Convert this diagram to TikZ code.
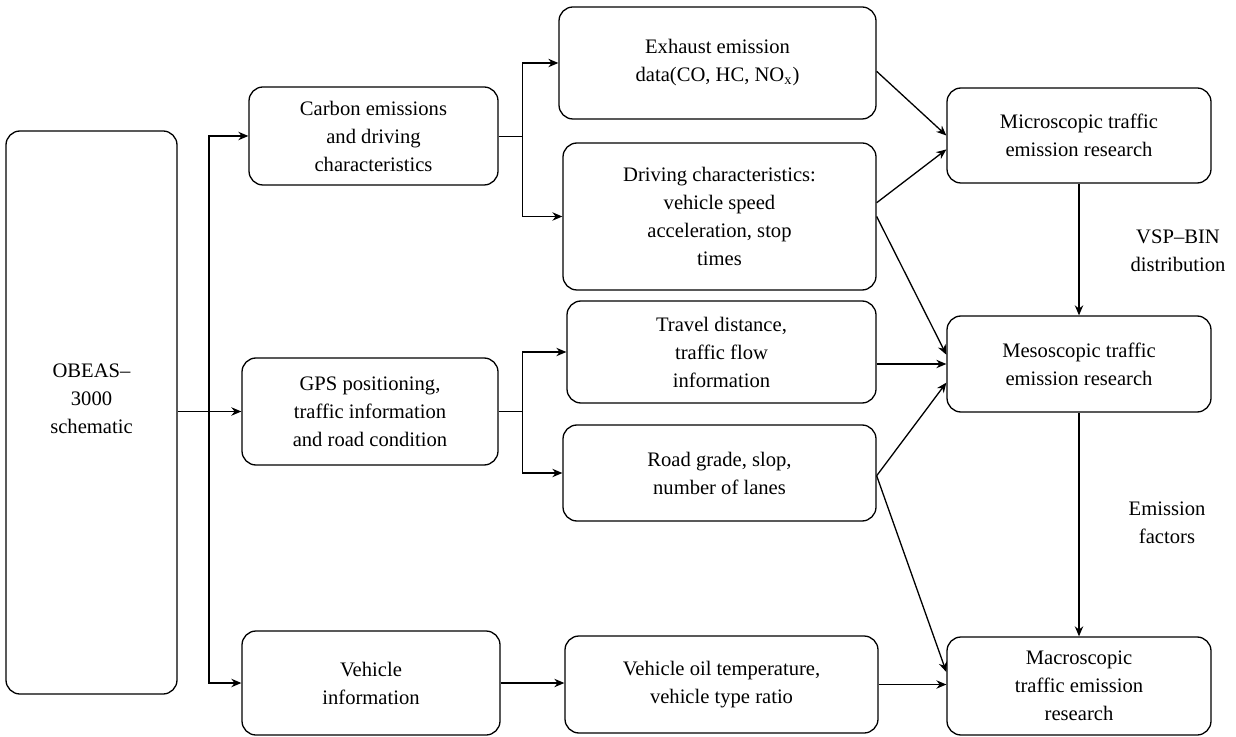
\documentclass[tikz,border=0pt]{standalone}
\usepackage{fontspec}
\setmainfont{Liberation Serif}
\usetikzlibrary{arrows.meta}
\tikzset{
  box/.style={draw, rounded corners=7pt, line width=0.65pt, align=center, inner sep=0pt},
  link/.style={line width=0.65pt, -{Stealth[length=5pt,width=4.2pt]}},
  note/.style={align=center, inner sep=0pt},
}
\begin{document}
\begin{tikzpicture}[x=0.5pt, y=-0.5pt, font=\fontsize{10.3}{14}\selectfont]
  \useasboundingbox (0,0) rectangle (1236,737);
  % 左侧设备
  \node[box, minimum width=85.5pt, minimum height=281.5pt] (obeas) at (91.5,412.5) {OBEAS–\\3000\\schematic\\[0pt]};
  % 第二列：采集的数据类别
  \node[box, minimum width=124.5pt, minimum height=49pt] (carbon) at (373.5,136) {Carbon emissions\\and driving\\characteristics};
  \node[box, minimum width=128pt, minimum height=53.5pt] (gps) at (370,411.5) {GPS positioning,\\traffic information\\and road condition};
  \node[box, minimum width=129pt, minimum height=52pt] (vinfo) at (371,683) {Vehicle\\information};
  % 第三列：具体参数
  \node[box, minimum width=158.5pt, minimum height=56pt] (exhaust) at (717.5,63) {Exhaust emission\\data(CO, HC, NO\textsubscript{x})};
  \node[box, minimum width=156.5pt, minimum height=73.5pt] (drive) at (719.5,216.5) {Driving characteristics:\\vehicle speed\\acceleration, stop\\times};
  \node[box, minimum width=154.5pt, minimum height=51pt] (travel) at (721.5,352) {Travel distance,\\traffic flow\\information};
  \node[box, minimum width=156.5pt, minimum height=48pt] (road) at (719.5,473) {Road grade, slop,\\number of lanes};
  \node[box, minimum width=156.5pt, minimum height=48.5pt] (oil) at (721.5,684.5) {Vehicle oil temperature,\\vehicle type ratio};
  % 右列：三个层次的研究
  \node[box, minimum width=132pt, minimum height=47.5pt] (micro) at (1079,135.5) {Microscopic traffic\\emission research};
  \node[box, minimum width=132pt, minimum height=48pt] (meso) at (1079,364) {Mesoscopic traffic\\emission research};
  \node[box, minimum width=132pt, minimum height=49pt] (macro) at (1079,686) {Macroscopic\\traffic emission\\research};
  % 竖线旁的说明
  \node[note] (vsp) at (1178,251) {VSP–BIN\\distribution};
  \node[note] (emf) at (1167,523) {Emission\\factors};
  % 设备分出三路
  \coordinate (split) at (209,411.5);
  \draw[link] (obeas.east |- gps.west) -- (gps.west);
  \draw[link] (split) |- (carbon.west);
  \draw[link] (split) |- (vinfo.west);
  % 第二列到第三列
  \coordinate (cbr) at ([xshift=12pt]carbon.east);
  \coordinate (gbr) at ([xshift=12pt]gps.east);
  \draw (carbon.east) -- (cbr);
  \draw[link] (cbr) |- (exhaust.west);
  \draw[link] (cbr) |- (drive.west);
  \draw (gps.east) -- (gbr);
  \draw[link] (gbr) |- (travel.west);
  \draw[link] (gbr) |- (road.west);
  \draw[link] (vinfo.east) -- (vinfo.east -| oil.west);
  % 第三列到右列
  \draw[link] (exhaust.-3) -- (micro.west);
  \draw[link] (drive.5) -- (micro.186);
  \draw[link] (drive.east) -- (meso.176);
  \draw[link] (meso.west -| travel.east) -- (meso.west);
  \draw[link] (road.-1.5) -- (meso.188);
  \draw[link] (road.-1.5) -- (macro.174);
  \draw[link] (oil.east) -- (oil.east -| macro.west);
  % 层次之间
  \draw[link] (micro.south) -- (meso.north);
  \draw[link] (meso.south) -- (macro.north);
\end{tikzpicture}
\end{document}
